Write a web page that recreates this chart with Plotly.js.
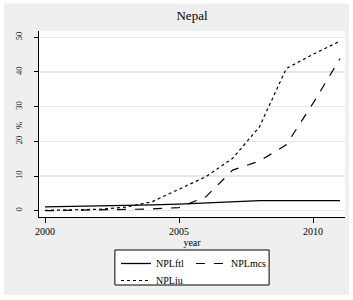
<!DOCTYPE html>
<html>
<head>
<meta charset="utf-8">
<script src="https://cdn.plot.ly/plotly-3.0.1.min.js"></script>
<style>
  html, body { margin: 0; padding: 0; background: #ffffff; }
  #chart { width: 353px; height: 300px; }
</style>
</head>
<body>
<div id="chart"></div>
<script>
// ---- data ----
const years = [2000, 2001, 2002, 2003, 2004, 2005, 2006, 2007, 2008, 2009, 2010, 2011];
const NPLftl = [1.1, 1.2, 1.3, 1.5, 1.7, 1.9, 2.3, 2.6, 2.9, 2.9, 2.9, 2.9];
const NPLmcs = [0.0, 0.1, 0.2, 0.4, 0.5, 0.9, 4.0, 11.7, 14.3, 19.0, 31.0, 43.8];
const NPLiu  = [0.1, 0.2, 0.4, 1.0, 2.6, 6.2, 9.8, 15.1, 24.2, 41.0, 45.1, 48.9];
const seriesNames = ["NPLftl", "NPLmcs", "NPLiu"];
const xTicks = [2000, 2005, 2010];
const yTicks = [0, 10, 20, 30, 40, 50];

const font = "Liberation Serif, Times New Roman, serif";

const traces = [
  { x: years, y: NPLftl, name: seriesNames[0], type: "scatter", mode: "lines",
    line: { color: "#000000", width: 1.3, dash: "solid" }, legend: "legend" },
  { x: years, y: NPLmcs, name: seriesNames[1], type: "scatter", mode: "lines",
    line: { color: "#000000", width: 1.2, dash: "dash" }, legend: "legend2" },
  { x: years, y: NPLiu, name: seriesNames[2], type: "scatter", mode: "lines",
    line: { color: "#000000", width: 1.2, dash: "dot" }, legend: "legend3" }
];

function legendAt(x, y) {
  return {
    orientation: "v",
    x: x, xanchor: "left", xref: "paper",
    y: y, yanchor: "top", yref: "paper",
    bgcolor: "rgba(0,0,0,0)", borderwidth: 0,
    font: { family: font, size: 10, color: "#000000" },
    itemwidth: 30
  };
}

const layout = {
  width: 353, height: 300,
  margin: { l: 39, r: 8, t: 31, b: 83, autoexpand: false },
  paper_bgcolor: "#efefef",
  plot_bgcolor: "#ffffff",
  font: { family: font, color: "#000000", size: 10 },
  showlegend: true,
  title: { text: "Nepal", font: { family: font, size: 13, color: "#000000" },
           x: 0.5, xref: "paper", xanchor: "center",
           y: 1.048, yref: "paper", yanchor: "middle" },
  xaxis: {
    range: [1999.776, 2011.19],
    tickvals: xTicks, ticktext: xTicks.map(String),
    ticks: "outside", ticklen: 5, tickcolor: "#000000", tickwidth: 1,
    showline: true, linecolor: "#000000", linewidth: 1.2,
    showgrid: false, zeroline: false,
    tickfont: { family: font, size: 10 },
    title: { text: "year", font: { family: font, size: 10 }, standoff: 1 }
  },
  yaxis: {
    range: [-1.82, 51.82],
    tickvals: yTicks, ticktext: yTicks.map(String),
    tickangle: -90,
    ticks: "outside", ticklen: 4, tickcolor: "#000000", tickwidth: 1,
    showline: true, linecolor: "#000000", linewidth: 1.2,
    showgrid: true, gridcolor: "#e6e6e6", gridwidth: 1.5,
    zeroline: false,
    ticklabelstandoff: 8,
    tickfont: { family: font, size: 8.5 }
  },
  annotations: [
    { text: "%", xref: "paper", yref: "paper", x: -0.0654, y: 0.4946,
      xanchor: "center", yanchor: "middle", textangle: -90, showarrow: false,
      font: { family: font, size: 8.5, color: "#000000" } }
  ],
  legend: legendAt(0.2516, -0.172),
  legend2: legendAt(0.4967, -0.172),
  legend3: legendAt(0.2516, -0.2634),
  shapes: [
    // legend frame
    { type: "rect", xref: "paper", yref: "paper",
      x0: 0.248, x1: 0.752, y0: -0.1774, y1: -0.3656,
      line: { color: "#000000", width: 1 }, fillcolor: "#ffffff", layer: "below" },
    // white outer margin around the gray graph region
    { type: "rect", xref: "paper", yref: "paper",
      x0: -0.1275, x1: 1.0262, y0: 1.1694, y1: -0.4409,
      line: { color: "#ffffff", width: 8 }, fillcolor: "rgba(0,0,0,0)", layer: "above" }
  ]
};

Plotly.newPlot("chart", traces, layout, { staticPlot: true, displayModeBar: false });
</script>
</body>
</html>
